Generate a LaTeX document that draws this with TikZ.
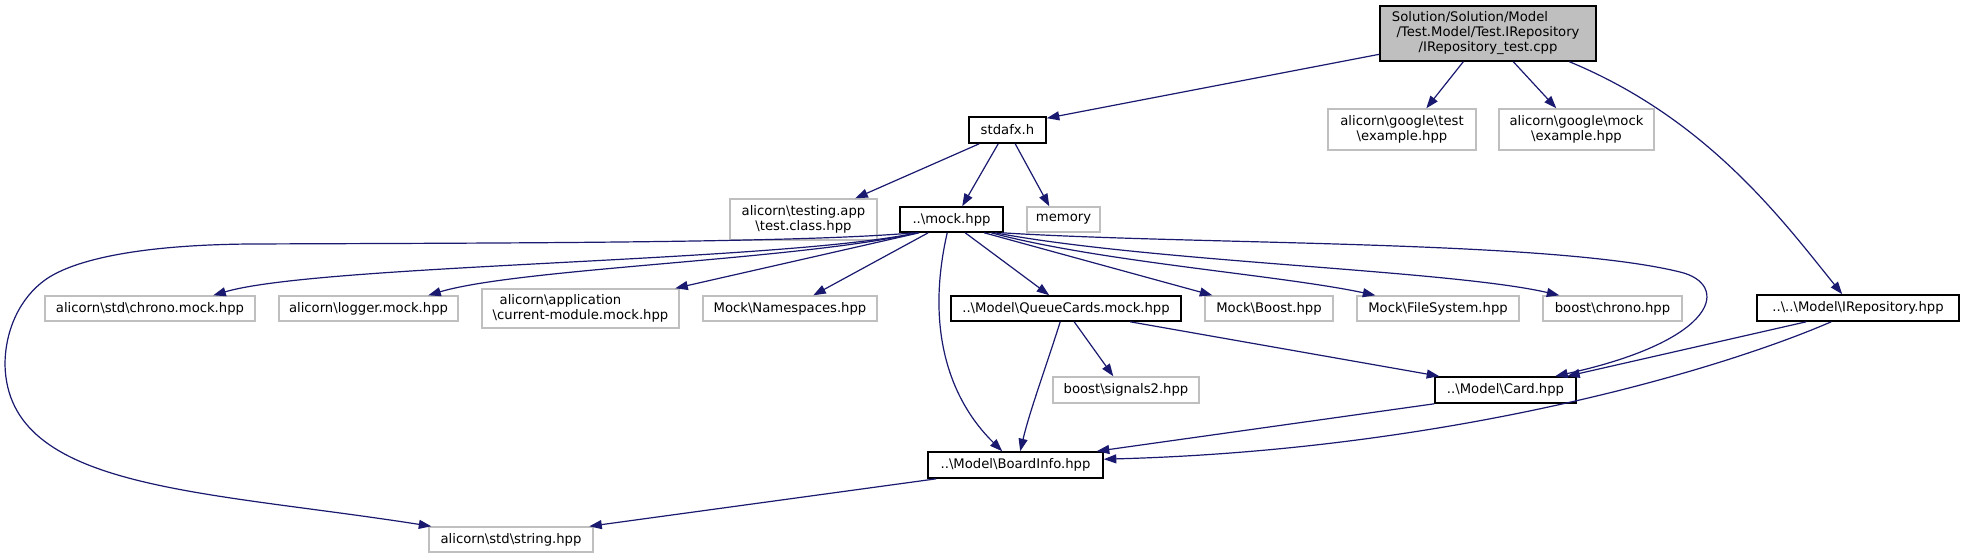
\documentclass[tikz,border=0pt]{standalone}
\usepackage{fontspec}
\setmainfont{DejaVu Sans}
\usetikzlibrary{arrows.meta,calc}
\definecolor{edgeblue}{HTML}{191970}
\definecolor{boxgray}{HTML}{BFBFBF}
\newcommand\bsl{\textbackslash}
\begin{document}
\begin{tikzpicture}[x=1pt,y=-1pt,
  every node/.style={font=\fontsize{13.2}{15}\selectfont, inner sep=0pt, align=center, anchor=center},
  docbox/.style={draw=black, line width=1.6pt, fill=white},
  extbox/.style={draw=boxgray, line width=1.4pt, fill=white},
  topbox/.style={draw=black, line width=1.4pt, fill=boxgray},
  dep/.style={draw=edgeblue, line width=1.2pt, -{Triangle[length=12.5pt,width=9pt]}}
]
\path[use as bounding box, fill=white] (0,0) rectangle (1964,559);

% nodes
\node[topbox, minimum width=216pt, minimum height=55pt] (top) at (1488,33.5)
  {Solution/Solution/Model\rule{36pt}{0pt}\\/Test.Model/Test.IRepository\\/IRepository\_test.cpp};
\node[docbox, minimum width=77pt, minimum height=26pt] (stdafx) at (1007.5,130) {stdafx.h};
\node[extbox, minimum width=148pt, minimum height=41pt] (gtest) at (1402,129.5) {alicorn\bsl google\bsl test\\\bsl example.hpp};
\node[extbox, minimum width=155pt, minimum height=41pt] (gmock) at (1576.5,129.5) {alicorn\bsl google\bsl mock\\\bsl example.hpp};
\node[extbox, minimum width=147pt, minimum height=41pt] (testapp) at (803.5,219.5) {alicorn\bsl testing.app\\\bsl test.class.hpp};
\node[docbox, minimum width=103pt, minimum height=25pt] (mock) at (951.5,219.5) {..\bsl mock.hpp};
\node[extbox, minimum width=73pt, minimum height=25pt] (memory) at (1063.5,219.5) {memory};
\node[extbox, minimum width=210pt, minimum height=25pt] (chronomock) at (150,308.5) {alicorn\bsl std\bsl chrono.mock.hpp};
\node[extbox, minimum width=179pt, minimum height=25pt] (logger) at (368.5,308.5) {alicorn\bsl logger.mock.hpp};
\node[extbox, minimum width=197pt, minimum height=39pt, align=left] (appmod) at (580.5,308.5) {\hspace*{7pt}alicorn\bsl application\\\bsl current-module.mock.hpp};
\node[extbox, minimum width=174pt, minimum height=25pt] (ns) at (790,308.5) {Mock\bsl Namespaces.hpp};
\node[docbox, minimum width=230pt, minimum height=25pt] (queue) at (1066,308.5) {..\bsl Model\bsl QueueCards.mock.hpp};
\node[extbox, minimum width=128pt, minimum height=25pt] (boost) at (1269,308.5) {Mock\bsl Boost.hpp};
\node[extbox, minimum width=162pt, minimum height=25pt] (fs) at (1438,308.5) {Mock\bsl FileSystem.hpp};
\node[extbox, minimum width=139pt, minimum height=25pt] (bchrono) at (1612.5,308.5) {boost\bsl chrono.hpp};
\node[docbox, minimum width=202pt, minimum height=26pt] (irepo) at (1858,308) {..\bsl ..\bsl Model\bsl IRepository.hpp};
\node[extbox, minimum width=146pt, minimum height=26pt] (signals) at (1126,390) {boost\bsl signals2.hpp};
\node[docbox, minimum width=141pt, minimum height=26pt] (card) at (1505.5,390) {..\bsl Model\bsl Card.hpp};
\node[docbox, minimum width=175pt, minimum height=26pt] (board) at (1015.5,465) {..\bsl Model\bsl BoardInfo.hpp};
\node[extbox, minimum width=164pt, minimum height=25pt] (string) at (511,539.5) {alicorn\bsl std\bsl string.hpp};

% edges from the top file
\draw[dep] ($(top.north west)+(0,49)$) -- ($(stdafx.north east)+(0,2)$);
\draw[dep] ($(top.south west)+(84,0)$) -- ($(gtest.north west)+(99,0)$);
\draw[dep] ($(top.south west)+(134,0)$) -- ($(gmock.north west)+(58,0)$);
\draw[dep] ($(top.south west)+(190,0)$) .. controls (1708,119) and (1783,221) .. ($(irepo.north west)+(86,0)$);

% edges from stdafx.h
\draw[dep] ($(stdafx.south west)+(11,0)$) -- ($(testapp.north west)+(126,0)$);
\draw[dep] ($(stdafx.south west)+(30,0)$) -- ($(mock.north west)+(63,0)$);
\draw[dep] ($(stdafx.south west)+(47,0)$) -- ($(memory.north west)+(23,0)$);

% edges from mock.hpp
\draw[dep] ($(mock.south west)+(18,0)$) .. controls (780,262) and (320,264) .. ($(chronomock.north west)+(169,0)$);
\draw[dep] ($(mock.south west)+(18,0)$) .. controls (800,260) and (520,268) .. ($(logger.north west)+(150,0)$);
\draw[dep] ($(mock.south west)+(20,0)$) -- ($(appmod.north west)+(194,0)$);
\draw[dep] ($(mock.south west)+(15,0)$) .. controls (800,243) and (500,243) .. (250,244)
  .. controls (130,245) and (70,262) .. (45,280)
  .. controls (20,298) and (5,330) .. (5,365)
  .. controls (8,490) and (200,490) .. ($(string.north west)+(3,0)$);
\draw[dep] ($(mock.south west)+(29,0)$) -- ($(ns.north west)+(111,0)$);
\draw[dep] ($(mock.south west)+(66,0)$) -- ($(queue.north west)+(99,0)$);
\draw[dep] ($(mock.south west)+(48,0)$) .. controls (925,330) and (950,400) .. ($(board.north west)+(75,0)$);
\draw[dep] ($(mock.south west)+(85,0)$) -- ($(boost.north west)+(8,0)$);
\draw[dep] ($(mock.south west)+(92,0)$) .. controls (1100,262) and (1280,275) .. ($(fs.north west)+(19,0)$);
\draw[dep] ($(mock.south west)+(96,0)$) .. controls (1150,262) and (1450,270) .. ($(bchrono.north west)+(17,0)$);
\draw[dep] ($(mock.south east)+(-2,0)$) .. controls (1200,245) and (1550,240) .. (1680,272)
  .. controls (1730,284) and (1720,340) .. ($(card.north west)+(121,0)$);

% edges from QueueCards.mock.hpp
\draw[dep] ($(queue.south west)+(110,0)$) .. controls (1045,370) and (1030,410) .. ($(board.north west)+(93,0)$);
\draw[dep] ($(queue.south west)+(124,0)$) -- ($(signals.north west)+(61,0)$);
\draw[dep] ($(queue.south west)+(180,0)$) -- ($(card.north west)+(5,0)$);

% edges from IRepository.hpp
\draw[dep] ($(irepo.south west)+(50,0)$) -- ($(card.north west)+(133,0)$);
\draw[dep] ($(irepo.south west)+(75,0)$) .. controls (1720,370) and (1450,450) .. ($(board.north east)+(0,8)$);

% edges from Card.hpp and BoardInfo.hpp
\draw[dep] (card.south west) -- ($(board.north east)+(-7,0)$);
\draw[dep] ($(board.south west)+(9,0)$) -- ($(string.north west)+(161,0)$);
\end{tikzpicture}
\end{document}
